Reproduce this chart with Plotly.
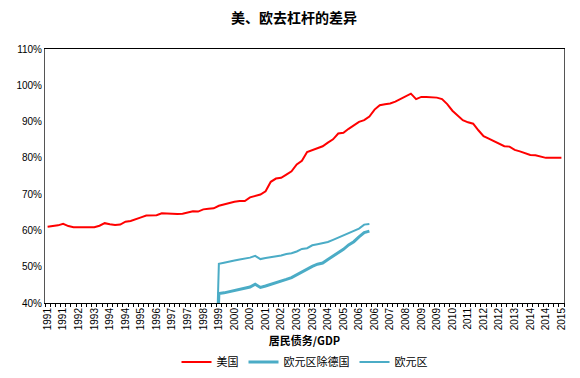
import plotly.graph_objects as go

# x-axis tick labels (one label every 3 data points)
tick_labels = ["1991", "1991", "1992", "1993", "1994", "1994", "1995", "1996", "1997", "1997",
               "1998", "1999", "2000", "2000", "2001", "2002", "2003", "2003", "2004", "2005",
               "2006", "2006", "2007", "2008", "2009", "2009", "2010", "2011", "2012", "2012",
               "2013", "2014", "2014", "2015"]

# 美国 household debt / GDP (%), 100 points
us = [61.0, 61.1, 61.4, 61.8, 61.2, 60.9, 60.9, 60.9, 60.9, 60.9,
      61.3, 62.0, 61.7, 61.5, 61.6, 62.4, 62.6, 63.0, 63.6, 64.1,
      64.2, 64.2, 64.7, 64.6, 64.5, 64.5, 64.6, 65.0, 65.3, 65.2,
      65.8, 66.0, 66.1, 66.8, 67.2, 67.6, 67.9, 68.1, 68.1, 69.1,
      69.6, 69.9, 70.8, 73.4, 74.3, 74.5, 75.4, 76.3, 78.2, 79.2,
      81.6, 82.2, 82.6, 83.2, 84.2, 85.1, 86.7, 86.9, 88.0, 89.0,
      89.9, 90.4, 91.4, 93.3, 94.5, 94.8, 95.0, 95.5, 96.2, 96.8,
      97.7, 96.2, 96.8, 96.8, 96.7, 96.6, 96.2, 94.8, 93.0, 91.6,
      90.4, 89.8, 89.4, 87.6, 86.0, 85.3, 84.6, 84.1, 83.2, 83.1,
      82.2, 81.8, 81.3, 80.8, 80.7, 80.4, 80.0, 80.0, 80.0, 80.0]

# 欧元区除德国 (from point 32; first value is an empty/zero cell)
ea_ex_de = [0.0,
            42.6, 42.8, 43.1, 43.4, 43.8, 44.1, 44.4, 45.2, 44.3, 44.7,
            45.1, 45.6, 46.0, 46.5, 47.0, 47.8, 48.6, 49.4, 50.1, 50.7,
            51.0, 52.0, 52.9, 53.8, 54.8, 56.0, 56.9, 58.2, 59.4, 59.8]

# 欧元区 (from point 32; first value is an empty/zero cell)
ea = [0.0,
      50.8, 51.1, 51.5, 51.7, 52.0, 52.2, 52.5, 53.0, 52.1, 52.4,
      52.6, 52.8, 53.1, 53.5, 53.7, 54.2, 54.9, 55.1, 55.9, 56.2,
      56.4, 56.8, 57.4, 58.0, 58.6, 59.2, 59.7, 60.5, 61.6, 61.8]
euro_start = 32

x_us = list(range(len(us)))
x_eu = list(range(euro_start, euro_start + len(ea)))
tick_vals = list(range(0, 3 * len(tick_labels), 3))

fig = go.Figure()
fig.add_trace(go.Scatter(x=x_us, y=us, mode="lines", name="美国",
                         line=dict(color="#FF0000", width=2)))
fig.add_trace(go.Scatter(x=x_eu, y=ea_ex_de, mode="lines", name="欧元区除德国",
                         line=dict(color="#4BACC6", width=3)))
fig.add_trace(go.Scatter(x=x_eu, y=ea, mode="lines", name="欧元区",
                         line=dict(color="#4BACC6", width=2)))

# page body has an 8px margin, so the figure is 8px smaller on each axis
fig.update_layout(
    width=572, height=370,
    margin=dict(l=37, r=16, t=41, b=75, autoexpand=False),
    paper_bgcolor="white", plot_bgcolor="white",
    title=dict(text="<b>美、欧去杠杆的差异</b>", x=0.5, xanchor="center",
               y=0.973, yanchor="middle", yref="container",
               font=dict(family="Noto Sans CJK SC", size=14, color="black")),
    font=dict(family="Liberation Sans", size=10, color="black"),
    showlegend=True,
    legend=dict(orientation="h", x=0.5, xanchor="center",
                y=0.043, yanchor="middle", yref="container",
                font=dict(family="Noto Sans CJK SC", size=11, color="black"),
                itemwidth=30, tracegroupgap=0, bgcolor="rgba(0,0,0,0)"),
)
fig.update_xaxes(
    range=[-0.5, len(us) - 0.5], tickmode="array", tickvals=tick_vals, ticktext=tick_labels,
    tickangle=-90, ticks="", showgrid=False, zeroline=False, automargin=False,
    showline=True, linecolor="black", linewidth=1, mirror=True,
    tickfont=dict(family="Liberation Sans", size=10, color="black"),
    minor=dict(tick0=-0.5, dtick=1, ticks="outside", ticklen=3, tickcolor="black", showgrid=False),
    title=dict(text="<b>居民债务/GDP</b>", standoff=20,
               font=dict(family="Noto Sans CJK SC", size=11, color="black")),
)
fig.update_yaxes(
    range=[40, 110], dtick=10, ticksuffix="%", ticks="", showgrid=False, zeroline=False,
    automargin=False,
    showline=True, linecolor="#555555", linewidth=1, mirror=True,
    tickfont=dict(family="Liberation Sans", size=10, color="black"),
)

fig.write_html("out.html")
